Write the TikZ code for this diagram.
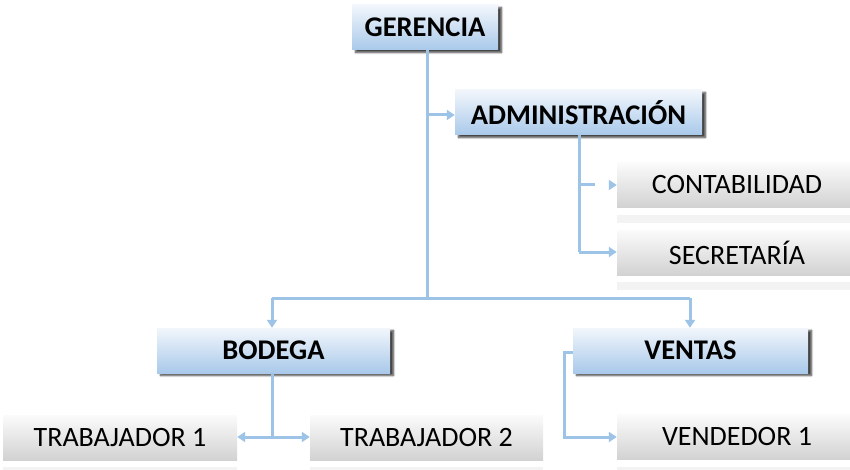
\documentclass[tikz,border=0pt]{standalone}
\usepackage{fontspec}
\setmainfont{Carlito}
\usetikzlibrary{arrows.meta,shadows.blur}
\definecolor{lnblue}{HTML}{9DC3E6}
\definecolor{bxtop}{HTML}{F2F6FC}
\definecolor{bxbot}{HTML}{A9C9EA}
\definecolor{grtop}{HTML}{FBFBFB}
\definecolor{grbot}{HTML}{D2D2D2}
\definecolor{reflc}{HTML}{F3F3F3}
\tikzset{
  headbox/.style={rectangle, inner sep=0pt, top color=bxtop, bottom color=bxbot,
    blur shadow={shadow xshift=3.5pt, shadow yshift=-2.5pt, shadow blur steps=6, shadow blur extra rounding=0pt, shadow opacity=75},
    font=\fontsize{28.5}{32}\selectfont\bfseries, text=black, minimum height=45pt},
  subbox/.style={rectangle, inner sep=0pt, top color=grtop, bottom color=grbot,
    font=\fontsize{28}{32}\selectfont, text=black, minimum height=45pt},
  conn/.style={draw=lnblue, line width=3pt, -{Triangle[length=8pt,width=10pt]}},
  plain/.style={draw=lnblue, line width=3pt},
  reflect/.style={fill=reflc}
}
\begin{document}
\begin{tikzpicture}[x=1pt,y=-1pt]
\useasboundingbox (0,0) rectangle (850,470);
% nodes
\node[headbox, minimum width=146pt] (ger) at (425,27.5) {GERENCIA};
\node[headbox, minimum width=247pt] (adm) at (578.5,112.5) {ADMINISTRACIÓN};
\node[subbox, minimum width=240pt] (cont) at (737,185) {CONTABILIDAD};
\node[subbox, minimum width=240pt] (secr) at (737,252.5) {SECRETARÍA};
\node[headbox, minimum width=233pt] (bod) at (273.5,350.5) {BODEGA};
\node[headbox, minimum width=235pt] (ven) at (690.5,350.5) {VENTAS};
\node[subbox, minimum width=234pt] (tr1) at (120,437.5) {TRABAJADOR 1};
\node[subbox, minimum width=233pt] (tr2) at (426.5,437.5) {TRABAJADOR 2};
\node[subbox, minimum width=240pt] (vend) at (737,437) {VENDEDOR 1};
% reflections
\foreach \n in {cont,secr,tr1,tr2,vend}{
  \fill[reflect] ([yshift=-7pt]\n.south west) rectangle ([yshift=-15pt]\n.south east);
}
% coordinates
\coordinate (gbot) at (427,298);
\coordinate (bodtop) at (272,298);
\coordinate (ventop) at (690,298);
\coordinate (admj) at (427,115);
\coordinate (a1) at (579,185);
\coordinate (a2) at (579,252);
\coordinate (bj) at (272,437);
\coordinate (vj) at (564,352);
\coordinate (vj2) at (564,437);
% connectors
\draw[plain] (ger.south -| gbot) -- (gbot);
\draw[plain] (bodtop) -- (ventop);
\draw[conn] (bodtop) -- (bodtop |- bod.north);
\draw[conn] (ventop) -- (ventop |- ven.north);
\draw[conn] (admj) -- (admj -| adm.west);
\draw[plain] (adm.south -| a1) -- (a2);
\draw[conn, dash pattern=on 16pt off 40pt] (a1) -- (a1 -| cont.west);
\draw[conn] (a2) -- (a2 -| secr.west);
\draw[plain] (bod.south -| bj) -- (bj);
\draw[conn] (bj) -- (bj -| tr1.east);
\draw[conn] (bj) -- (bj -| tr2.west);
\draw[conn] (ven.west |- vj) -- (vj) -- (vj2) -- (vj2 -| vend.west);
\end{tikzpicture}
\end{document}
